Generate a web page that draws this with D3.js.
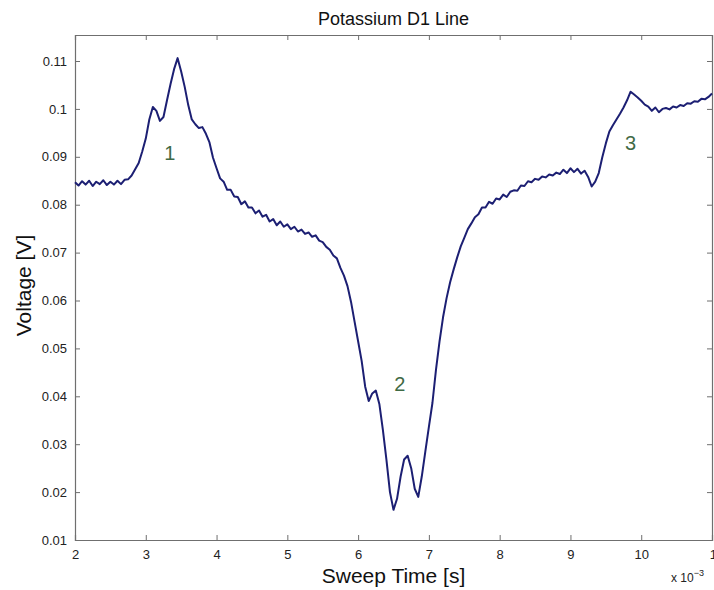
<!DOCTYPE html>
<html>
<head>
<meta charset="utf-8">
<script src="https://cdn.jsdelivr.net/npm/d3@7"></script>
<style>
  body { margin: 0; background: #fff; }
  svg { font-family: "Liberation Sans", Arial, Helvetica, sans-serif; }
</style>
</head>
<body>
<div id="chart"></div>
<script>
// sweep time in ms (axis shows x 10^-3 s)
const sweepTime = [
  2.00, 2.05, 2.10, 2.15, 2.20, 2.25, 2.30, 2.35, 2.40, 2.45,
  2.50, 2.55, 2.60, 2.65, 2.70, 2.75, 2.80, 2.85, 2.90, 2.95,
  3.00, 3.05, 3.10, 3.15, 3.20, 3.25, 3.30, 3.35, 3.40, 3.45,
  3.50, 3.55, 3.60, 3.65, 3.70, 3.75, 3.80, 3.85, 3.90, 3.95,
  4.00, 4.05, 4.10, 4.15, 4.20, 4.25, 4.30, 4.35, 4.40, 4.45,
  4.50, 4.55, 4.60, 4.65, 4.70, 4.75, 4.80, 4.85, 4.90, 4.95,
  5.00, 5.05, 5.10, 5.15, 5.20, 5.25, 5.30, 5.35, 5.40, 5.45,
  5.50, 5.55, 5.60, 5.65, 5.70, 5.75, 5.80, 5.85, 5.90, 5.95,
  6.00, 6.05, 6.10, 6.15, 6.20, 6.25, 6.30, 6.35, 6.40, 6.45,
  6.50, 6.55, 6.60, 6.65, 6.70, 6.75, 6.80, 6.85, 6.90, 6.95,
  7.00, 7.05, 7.10, 7.15, 7.20, 7.25, 7.30, 7.35, 7.40, 7.45,
  7.50, 7.55, 7.60, 7.65, 7.70, 7.75, 7.80, 7.85, 7.90, 7.95,
  8.00, 8.05, 8.10, 8.15, 8.20, 8.25, 8.30, 8.35, 8.40, 8.45,
  8.50, 8.55, 8.60, 8.65, 8.70, 8.75, 8.80, 8.85, 8.90, 8.95,
  9.00, 9.05, 9.10, 9.15, 9.20, 9.25, 9.30, 9.35, 9.40, 9.45,
  9.50, 9.55, 9.60, 9.65, 9.70, 9.75, 9.80, 9.85, 9.90, 9.95,
  10.00, 10.05, 10.10, 10.15, 10.20, 10.25, 10.30, 10.35, 10.40, 10.45,
  10.50, 10.55, 10.60, 10.65, 10.70, 10.75, 10.80, 10.85, 10.90, 10.95,
  11.00
]

const voltage = [
  0.0847, 0.0840, 0.0849, 0.0842, 0.0850, 0.0839, 0.0848, 0.0843, 0.0851, 0.0841,
  0.0848, 0.0842, 0.0850, 0.0843, 0.0852, 0.0853, 0.0861, 0.0874, 0.0887, 0.0911,
  0.0938, 0.0978, 0.1004, 0.0996, 0.0975, 0.0983, 0.1018, 0.1052, 0.1083, 0.1106,
  0.1078, 0.1046, 0.1008, 0.0978, 0.0968, 0.0960, 0.0962, 0.0948, 0.0930, 0.0898,
  0.0876, 0.0855, 0.0848, 0.0831, 0.0831, 0.0817, 0.0816, 0.0801, 0.0807, 0.0794,
  0.0794, 0.0782, 0.0788, 0.0775, 0.0779, 0.0765, 0.0770, 0.0757, 0.0765, 0.0754,
  0.0759, 0.0749, 0.0754, 0.0744, 0.0748, 0.0739, 0.0742, 0.0733, 0.0736, 0.0725,
  0.0722, 0.0712, 0.0706, 0.0694, 0.0688, 0.0668, 0.0652, 0.0630, 0.0597, 0.0556,
  0.0515, 0.0474, 0.0420, 0.0390, 0.0406, 0.0412, 0.0384, 0.0330, 0.0268, 0.0200,
  0.0163, 0.0186, 0.0232, 0.0268, 0.0276, 0.0250, 0.0207, 0.0190, 0.0233, 0.0285,
  0.0336, 0.0386, 0.0455, 0.0514, 0.0565, 0.0605, 0.0638, 0.0665, 0.0690, 0.0713,
  0.0731, 0.0749, 0.0761, 0.0774, 0.0780, 0.0794, 0.0794, 0.0806, 0.0802, 0.0813,
  0.0811, 0.0821, 0.0816, 0.0827, 0.0830, 0.0829, 0.0840, 0.0839, 0.0849, 0.0847,
  0.0854, 0.0852, 0.0859, 0.0857, 0.0863, 0.0861, 0.0867, 0.0864, 0.0873, 0.0866,
  0.0876, 0.0868, 0.0875, 0.0865, 0.0871, 0.0858, 0.0838, 0.0848, 0.0866, 0.0899,
  0.0928, 0.0953, 0.0966, 0.0978, 0.0990, 0.1003, 0.1018, 0.1036, 0.1030, 0.1024,
  0.1017, 0.1009, 0.1005, 0.0996, 0.1003, 0.0993, 0.1000, 0.1002, 0.0999, 0.1005,
  0.1003, 0.1008, 0.1006, 0.1012, 0.1011, 0.1016, 0.1015, 0.1021, 0.1020, 0.1025,
  0.1032
]

const xTicks = [2, 3, 4, 5, 6, 7, 8, 9, 10, 11]
const yTicks = [0.01, 0.02, 0.03, 0.04, 0.05, 0.06, 0.07, 0.08, 0.09, 0.1, 0.11]

// peak labels: text, time (ms), voltage
const peakNames = ['1', '2', '3']
const peakTime = [3.34, 6.59, 9.85]
const peakVolt = [0.0893, 0.0412, 0.0914]

let margin = {top: 35, right: 2, bottom: 50, left: 75},
  width = 714 - margin.left - margin.right,
  height = 590 - margin.top - margin.bottom

let svg = d3.select('#chart')
  .append('svg')
    .attr('width', 714)
    .attr('height', 590)

let g = svg.append('g')
  .attr('transform', 'translate(' + margin.left + ',' + margin.top + ')')

let xScale = d3.scaleLinear().domain([2, 11]).range([0, width])
let yScale = d3.scaleLinear().domain([0.01, 0.11543]).range([height, 0])

const axisColor = '#6f6f6f'
const tickLen = 5

// bottom axis with labels, ticks pointing inward
let xAxis = g.append('g').attr('transform', 'translate(0,' + height + ')')
  .call(d3.axisBottom(xScale).tickValues(xTicks).tickSize(-tickLen).tickPadding(10)
    .tickFormat(d => d))
let yAxis = g.append('g')
  .call(d3.axisLeft(yScale).tickValues(yTicks).tickSize(-tickLen).tickPadding(8)
    .tickFormat(d => d))
// top / right ticks (box)
let xTop = g.append('g')
  .call(d3.axisTop(xScale).tickValues(xTicks).tickSize(-tickLen).tickFormat(''))
let yRight = g.append('g').attr('transform', 'translate(' + width + ',0)')
  .call(d3.axisRight(yScale).tickValues(yTicks).tickSize(-tickLen).tickFormat(''))

;[xAxis, yAxis, xTop, yRight].forEach(a => {
  a.select('.domain').attr('stroke', axisColor).attr('stroke-width', 1.2)
  a.selectAll('.tick line').attr('stroke', axisColor).attr('stroke-width', 1)
  a.selectAll('.tick text').attr('fill', '#222').style('font-size', '13px')
})
// last x label is clipped by the page edge in the original too
xAxis.select('.tick:last-of-type text').attr('dx', 4)

let line = d3.line()
  .x((d, i) => xScale(sweepTime[i]))
  .y(d => yScale(d))

g.append('path')
  .datum(voltage)
  .attr('d', line)
  .attr('fill', 'none')
  .attr('stroke', '#1c1f73')
  .attr('stroke-width', 2)
  .attr('stroke-linejoin', 'round')

g.selectAll('.peak')
  .data(peakNames)
  .join('text')
    .attr('class', 'peak')
    .attr('x', (d, i) => xScale(peakTime[i]))
    .attr('y', (d, i) => yScale(peakVolt[i]))
    .attr('text-anchor', 'middle')
    .attr('fill', '#3f6a45')
    .style('font-size', '20px')
    .text(d => d)

svg.append('text')
  .attr('x', margin.left + width / 2)
  .attr('y', 25)
  .attr('text-anchor', 'middle')
  .attr('fill', '#111')
  .style('font-size', '18px')
  .text('Potassium D1 Line')

svg.append('text')
  .attr('x', margin.left + width / 2)
  .attr('y', 583)
  .attr('text-anchor', 'middle')
  .attr('fill', '#111')
  .style('font-size', '21px')
  .text('Sweep Time [s]')

svg.append('text')
  .attr('transform', 'translate(31,' + (margin.top + height / 2 - 2) + ') rotate(-90)')
  .attr('text-anchor', 'middle')
  .attr('fill', '#111')
  .style('font-size', '21px')
  .text('Voltage [V]')

let mult = svg.append('text')
  .attr('x', 671)
  .attr('y', 582)
  .attr('fill', '#222')
  .style('font-size', '12px')
mult.append('tspan').text('x 10')
mult.append('tspan').attr('dy', -6).style('font-size', '9px').text('−3')
</script>
</body>
</html>
